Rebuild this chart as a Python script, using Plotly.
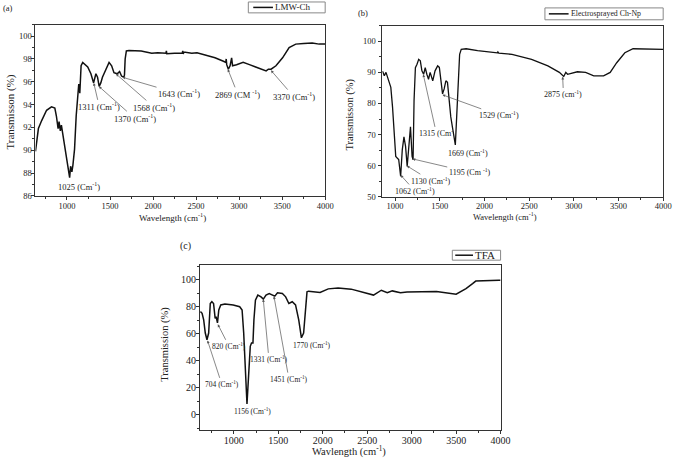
import plotly.graph_objects as go

W, H = 685, 463

# ---------------- data ----------------
a_wn = [634, 650, 668, 706, 763, 820, 859, 877, 897, 908, 923, 935, 954, 973, 992, 1011, 1031, 1042, 1057, 1069,
        1088, 1107, 1126, 1137, 1149, 1164, 1183, 1214, 1241, 1278, 1309, 1336, 1355, 1374, 1393, 1412, 1450, 1489,
        1519, 1546, 1584, 1611, 1634, 1661, 1668, 1676, 1690, 1720, 1862, 1985, 2054, 2150, 2155, 2160, 2250, 2340,
        2345, 2350, 2359, 2450, 2511, 2627, 2720, 2818, 2845, 2850, 2856, 2875, 2895, 2913, 2924, 2970, 3047, 3120,
        3199, 3314, 3340, 3371, 3428, 3505, 3581, 3658, 3750, 3849, 3930, 4000]
a_tr = [89.9, 91.0, 91.9, 92.6, 93.5, 93.8, 93.7, 93.0, 91.9, 92.5, 91.7, 92.2, 91.3, 90.4, 89.3, 88.6, 87.6, 88.6,
        88.1, 88.7, 90.1, 93.0, 95.4, 95.8, 95.0, 97.4, 97.7, 97.5, 97.3, 96.7, 95.9, 96.7, 96.4, 95.6, 95.9, 96.4,
        97.0, 97.7, 97.4, 96.8, 96.7, 96.9, 96.5, 96.4, 96.6, 98.0, 98.7, 98.75, 98.7, 98.5, 98.55, 98.5, 98.7, 98.45,
        98.5, 98.5, 98.7, 98.45, 98.6, 98.5, 98.55, 98.3, 98.1, 97.8, 97.7, 98.0, 97.5, 97.1, 97.4, 98.1, 97.4, 97.5,
        97.7, 97.5, 97.25, 96.95, 97.1, 97.1, 97.4, 98.1, 99.0, 99.3, 99.35, 99.4, 99.3, 99.3]

b_wn = [857, 861, 879, 898, 916, 934, 952, 971, 989, 1007, 1026, 1040, 1062, 1080, 1099, 1117, 1135, 1154, 1172,
        1190, 1201, 1212, 1227, 1245, 1264, 1282, 1300, 1319, 1337, 1355, 1374, 1392, 1421, 1447, 1476, 1495, 1513,
        1531, 1549, 1568, 1586, 1604, 1623, 1641, 1659, 1674, 1689, 1703, 1722, 1740, 1795, 1923, 2050, 2143, 2150,
        2160, 2308, 2527, 2710, 2838, 2887, 2910, 2930, 2967, 3040, 3132, 3223, 3333, 3407, 3480, 3571, 3663, 3809,
        4000]
b_tr = [90.0, 90.3, 88.9, 90.0, 88.4, 86.3, 85.2, 78.9, 70.4, 63.0, 62.4, 62.0, 56.6, 65.1, 69.3, 66.2, 59.8, 66.2,
        72.5, 63.0, 61.9, 81.0, 91.5, 92.6, 94.2, 93.7, 90.5, 89.4, 91.5, 89.4, 87.8, 90.0, 87.3, 90.5, 92.1, 91.6,
        87.3, 83.1, 84.7, 87.3, 86.8, 81.0, 75.7, 72.5, 69.3, 66.7, 75.7, 86.3, 95.8, 97.4, 97.6, 97.0, 96.5, 96.3,
        96.6, 96.2, 95.8, 94.2, 92.1, 90.0, 88.7, 90.0, 89.4, 89.6, 90.2, 90.0, 88.9, 88.9, 90.0, 93.1, 96.3, 97.6,
        97.6, 97.4]

c_wn = [624, 643, 661, 679, 698, 717, 735, 753, 772, 790, 801, 816, 831, 853, 900, 993, 1066, 1093, 1111, 1129,
        1148, 1166, 1185, 1199, 1215, 1226, 1243, 1270, 1306, 1332, 1362, 1398, 1436, 1461, 1491, 1546, 1583, 1619,
        1657, 1694, 1730, 1760, 1785, 1805, 1823, 1841, 1970, 2062, 2173, 2320, 2431, 2571, 2659, 2726, 2782, 2874,
        2948, 3279, 3500, 3611, 3685, 3721, 3980, 4000]
c_tr = [76.4, 75.1, 70.3, 60.5, 55.5, 60.5, 82.4, 83.7, 82.4, 71.4, 72.7, 68.0, 77.6, 81.3, 82.0, 81.3, 80.0, 77.6,
        60.5, 28.8, 8.0, 28.8, 50.7, 53.1, 53.1, 70.3, 84.9, 88.6, 87.3, 85.6, 88.6, 89.8, 88.6, 87.8, 90.3, 89.8,
        87.3, 82.4, 83.7, 81.3, 70.3, 57.0, 60.5, 80.0, 91.0, 91.5, 90.5, 93.2, 93.9, 93.0, 91.0, 88.6, 92.2, 90.3,
        91.7, 90.3, 90.8, 91.2, 89.3, 93.4, 97.1, 99.0, 99.6, 99.6]

series_names = ["LMW-Ch", "Electrosprayed Ch-Np", "TFA"]
x_ticks = [1000, 1500, 2000, 2500, 3000, 3500, 4000]

# peak labels: text, arrow tip (wavenumber, transmission)
a_peak_text = ["1025 (Cm<sup>-1</sup>)", "1311 (Cm<sup>-1</sup>)", "1370 (Cm<sup>-1</sup>)", "1568 (Cm<sup>-1</sup>)",
               "1643 (Cm<sup>-1</sup>)", "2869 (CM <sup>-1</sup>)", "3370 (Cm<sup>-1</sup>)"]
a_peak_wn = [1025, 1311, 1370, 1568, 1643, 2869, 3370]
a_peak_tr = [87.6, 95.9, 95.6, 96.7, 96.4, 97.1, 97.0]

b_peak_text = ["1062 (Cm<sup>-1</sup>)", "1130 (Cm<sup>-1</sup>)", "1195 (Cm <sup>-1</sup>)", "1315 (Cm<sup>-</sup>",
               "1529 (Cm<sup>-1</sup>)", "1669 (Cm<sup>-1</sup>)", "2875 (cm<sup>-1</sup>)"]
b_peak_wn = [1062, 1130, 1195, 1315, 1529, 1669, 2875]
b_peak_tr = [57.0, 60.0, 62.2, 89.4, 82.8, 66.7, 88.6]

c_peak_text = ["704 (Cm<sup>-1</sup>)", "820 (Cm<sup>-1</sup>)", "1156 (Cm<sup>-1</sup>)", "1331 (Cm<sup>-1</sup>)",
               "1451 (Cm<sup>-1</sup>)", "1770 (Cm<sup>-1</sup>)"]
c_peak_wn = [704, 820, 1156, 1331, 1451, 1770]
c_peak_tr = [55.0, 67.0, 8.0, 85.6, 87.8, 57.0]

# ---------------- layout helpers ----------------
FONT = "Liberation Serif"
INK = "#222222"


def px_x(p):
    return p / W


def px_y(p):
    return 1 - p / H


# label positions (wavenumber, transmission) of the text, and whether an arrow is drawn
a_lab = [(1137, 86.85, False), (1376, 93.8, True), (1787, 92.8, True), (2016, 93.75, True),
         (2302, 94.95, True), (2985, 94.9, True), (3635, 94.7, True)]
b_lab = [(1222, 51.9, True), (1400, 55.2, True), (1835, 57.9, True), (1462, 70.4, True),
         (2165, 76.2, True), (1813, 64.0, False), (2884, 82.9, True)]
c_lab = [(865, 22.5, True), (946, 50.7, True), (1215, 2.6, False), (1395, 41.0, True),
         (1620, 26.4, True), (1878, 52.0, False)]

fig = go.Figure()
fig.add_trace(go.Scatter(x=a_wn, y=a_tr, mode="lines", name=series_names[0], xaxis="x", yaxis="y",
                         line=dict(color="#111111", width=1.5)))
fig.add_trace(go.Scatter(x=b_wn, y=b_tr, mode="lines", name=series_names[1], xaxis="x2", yaxis="y2",
                         line=dict(color="#111111", width=1.3)))
fig.add_trace(go.Scatter(x=c_wn, y=c_tr, mode="lines", name=series_names[2], xaxis="x3", yaxis="y3",
                         line=dict(color="#111111", width=1.5)))


def xax(dom, rng, anchor, size, lab_off):
    return dict(domain=dom, range=rng, anchor=anchor, showgrid=False, zeroline=False,
                showline=True, linecolor="#333333", linewidth=1, mirror=True,
                ticks="outside", ticklen=3, tickwidth=1, tickcolor="#333333",
                tickvals=x_ticks, ticklabelstandoff=lab_off,
                minor=dict(ticks="outside", ticklen=2, tickcolor="#333333", dtick=250, tick0=0),
                tickfont=dict(family=FONT, size=size, color=INK))


def yax(dom, rng, anchor, dtick, mdtick, size, lab_off):
    return dict(domain=dom, range=rng, anchor=anchor, showgrid=False, zeroline=False,
                showline=True, linecolor="#333333", linewidth=1, mirror=True,
                ticks="outside", ticklen=3, tickwidth=1, tickcolor="#333333", dtick=dtick, tick0=0,
                ticklabelstandoff=lab_off,
                minor=dict(ticks="outside", ticklen=2, tickcolor="#333333", dtick=mdtick, tick0=0),
                tickfont=dict(family=FONT, size=size, color=INK))


annotations = []
shapes = []


def add_peaks(texts, wn, tr, labs, xr, yr, fsize):
    for t, x, y, (lx, ly, arrow) in zip(texts, wn, tr, labs):
        if arrow:
            annotations.append(dict(x=x, y=y, xref=xr, yref=yr, ax=lx, ay=ly, axref=xr, ayref=yr,
                                    text=t, showarrow=True, arrowhead=2, arrowsize=0.8, arrowwidth=0.7,
                                    arrowcolor="#555555", font=dict(family=FONT, size=fsize, color=INK)))
        else:
            annotations.append(dict(x=lx, y=ly, xref=xr, yref=yr, text=t, showarrow=False,
                                    font=dict(family=FONT, size=fsize, color=INK)))


add_peaks(a_peak_text, a_peak_wn, a_peak_tr, a_lab, "x", "y", 8.5)
add_peaks(b_peak_text, b_peak_wn, b_peak_tr, b_lab, "x2", "y2", 8)
add_peaks(c_peak_text, c_peak_wn, c_peak_tr, c_lab, "x3", "y3", 7.5)


def paper_text(txt, x, y, s, angle=0):
    annotations.append(dict(x=px_x(x), y=px_y(y), xref="paper", yref="paper", text=txt, showarrow=False,
                            textangle=angle, xanchor="center", yanchor="middle",
                            font=dict(family=FONT, size=s, color=INK)))


# panel letters
paper_text("(a)", 8, 8, 8.5)
paper_text("(b)", 368, 13, 8.5)
paper_text("(c)", 188, 249, 10)

# axis titles
paper_text("Wavelength (cm<sup>-1</sup>)", 175, 219.5, 9)
paper_text("Wavelength (cm<sup>-1</sup>)", 512, 219, 8.5)
paper_text("Wavlength (cm<sup>-1</sup>)", 354, 456, 10.5)
paper_text("Transmisson (%)", 11, 113, 11, -90)
paper_text("Transmisson (%)", 355, 116, 10.5, -90)
paper_text("Transmission (%)", 168, 348, 10.5, -90)


# legend boxes (one series per panel)
def legend_box(name, x0, y0, x1, y1, l0, l1, s):
    ym = (y0 + y1) / 2
    shapes.append(dict(type="rect", xref="paper", yref="paper", x0=px_x(x0), x1=px_x(x1), y0=px_y(y1),
                       y1=px_y(y0), line=dict(color="#888888", width=1), fillcolor="white"))
    shapes.append(dict(type="line", xref="paper", yref="paper", x0=px_x(l0), x1=px_x(l1), y0=px_y(ym),
                       y1=px_y(ym), line=dict(color="#111111", width=1.5)))
    annotations.append(dict(x=px_x(l1 + 0.5), y=px_y(ym), xref="paper", yref="paper", text=name,
                            showarrow=False, xanchor="left", yanchor="middle",
                            font=dict(family=FONT, size=s, color=INK)))


legend_box(series_names[0], 252, 2, 330, 13, 257, 277, 9)
legend_box(series_names[1], 553, 8, 673, 20, 557, 577, 7.8)
legend_box(series_names[2], 459, 253, 508, 263, 462, 480, 11)

fig.update_layout(
    width=W, height=H, autosize=False,
    margin=dict(l=0, r=0, t=0, b=0, pad=0),
    paper_bgcolor="white", plot_bgcolor="white",
    font=dict(family=FONT, color=INK),
    showlegend=False,
    xaxis=xax([px_x(36), px_x(330)], [634, 4000], "y", 8.5, -1),
    yaxis=yax([px_y(198), px_y(25)], [86, 101], "x", 2, 1, 8.5, -2),
    xaxis2=xax([px_x(388), px_x(673)], [857, 4000], "y2", 8.5, -2),
    yaxis2=yax([px_y(199), px_y(26)], [50, 105], "x2", 10, 5, 8.5, 1),
    xaxis3=xax([px_x(203), px_x(508)], [620, 4000], "y3", 10, -2),
    yaxis3=yax([px_y(435), px_y(268)], [-11.5, 110.8], "x3", 20, 10, 10, -2),
    annotations=annotations,
    shapes=shapes,
)

fig.write_html("out.html", config={"displayModeBar": False},
               post_script="document.body.style.margin='0';document.body.style.padding='0';")
